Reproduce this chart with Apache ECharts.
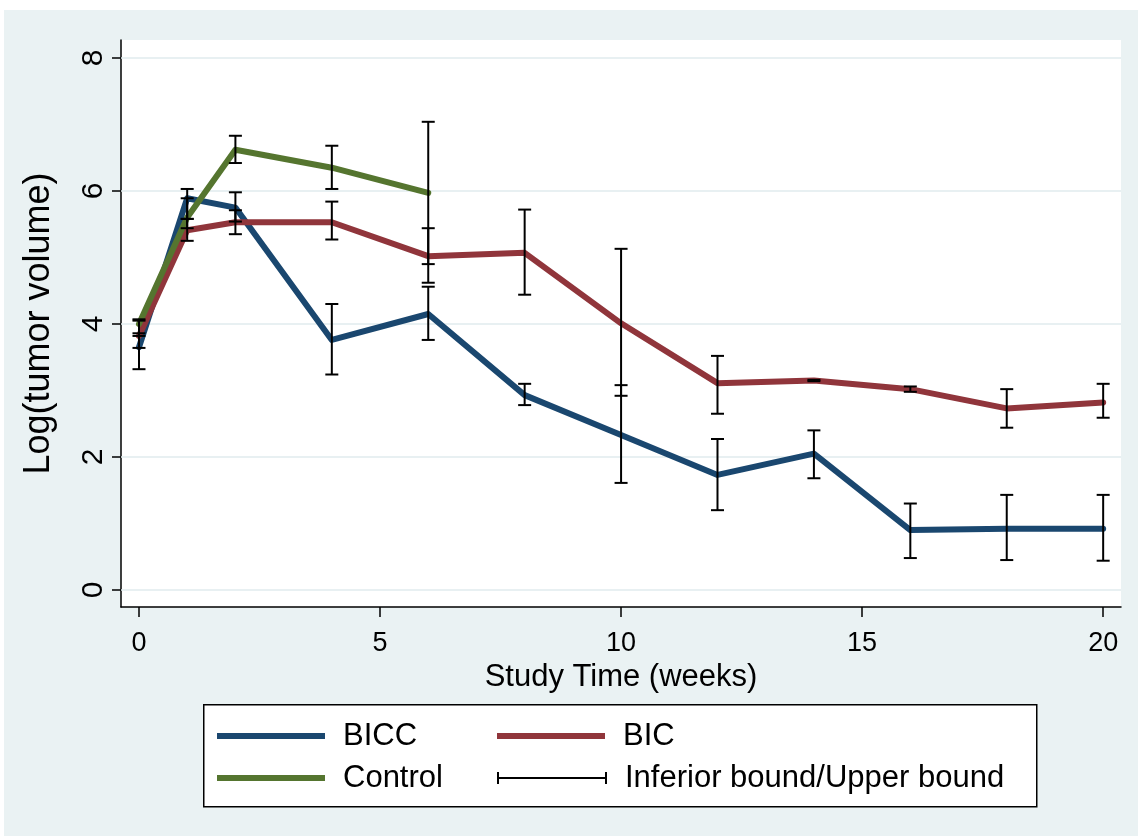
<!DOCTYPE html>
<html><head><meta charset="utf-8">
<script src="https://cdn.jsdelivr.net/npm/echarts@6/dist/echarts.min.js"></script>
<style>html,body{margin:0;padding:0;background:#fff;} #c{position:absolute;left:4px;top:10px;width:1134px;height:826px;}</style>
</head><body><div id="c"></div>
<script>
// ---- data ----
const weeks = [0, 1, 2, 4, 6, 8, 10, 12, 14, 16, 18, 20];
const bicc   = [3.65, 5.89, 5.75, 3.76, 4.15, 2.93, 2.33, 1.73, 2.05, 0.90, 0.92, 0.92];
const biccLo = [3.32, 5.44, 5.54, 3.24, 3.76, 2.78, 1.61, 1.20, 1.68, 0.48, 0.45, 0.44];
const biccHi = [4.07, 6.03, 5.98, 4.30, 4.56, 3.10, 3.08, 2.27, 2.40, 1.30, 1.43, 1.43];
const bic    = [3.82, 5.41, 5.53, 5.53, 5.02, 5.07, 4.01, 3.11, 3.15, 3.02, 2.73, 2.82];
const bicLo  = [3.64, 5.25, 5.35, 5.27, 4.62, 4.44, 2.92, 2.65, 3.14, 2.98, 2.44, 2.59];
const bicHi  = [3.86, 5.58, 5.71, 5.84, 5.44, 5.72, 5.13, 3.52, 3.16, 3.06, 3.02, 3.10];
const controlWeeks = [0, 1, 2, 4, 6];
const control   = [4.00, 5.60, 6.62, 6.35, 5.97];
const controlLo = [3.82, 5.58, 6.42, 6.03, 4.90];
const controlHi = [4.05, 5.89, 6.83, 6.68, 7.04];
const xTicks = [0, 5, 10, 15, 20];
const yTicks = [0, 2, 4, 6, 8];
const seriesNames = ['BICC', 'BIC', 'Control', 'Inferior bound/Upper bound'];

const FONT = "'Liberation Sans', Arial, sans-serif";
const COL = { BICC: '#1a476f', BIC: '#90353b', Control: '#55752f' };

const pairs = (xs, ys) => xs.map((x, i) => [x, ys[i]]);
const bounds = [];
weeks.forEach((w, i) => bounds.push([w, biccLo[i], biccHi[i]]));
weeks.forEach((w, i) => bounds.push([w, bicLo[i], bicHi[i]]));
controlWeeks.forEach((w, i) => bounds.push([w, controlLo[i], controlHi[i]]));

const chart = echarts.init(document.getElementById('c'), null, { renderer: 'canvas' });

function lineSeries(name, data) {
  return {
    name, type: 'line', data, symbol: 'none', showSymbol: false,
    lineStyle: { width: 6, color: COL[name], join: 'round', cap: 'round' },
    itemStyle: { color: COL[name] },
    emphasis: { disabled: true }, silent: true, z: 2
  };
}

function legendItem(name, left, top, icon, w, h) {
  return {
    data: [{ name, icon }], left, top, padding: 0, orient: 'horizontal',
    itemWidth: w, itemHeight: h, selectedMode: false,
    textStyle: { fontFamily: FONT, fontSize: 31, color: '#000', padding: [0, 0, 0, 13], lineHeight: 36 }
  };
}

const errIcon = 'path://M0,0h2v12h-2z M0,5h110v2h-110z M108,0h2v12h-2z';

chart.setOption({
  animation: false,
  backgroundColor: '#eaf2f3',
  textStyle: { fontFamily: FONT },
  grid: { left: 117, top: 30, right: 17, bottom: 229, show: true, backgroundColor: '#ffffff', borderWidth: 0 },
  xAxis: {
    type: 'value', min: -0.373, max: 20.37,
    name: 'Study Time (weeks)', nameLocation: 'middle', nameGap: 51,
    nameTextStyle: { fontFamily: FONT, fontSize: 31, color: '#000' },
    axisLine: { show: true, onZero: false, lineStyle: { color: '#000', width: 1.5 } },
    axisTick: { show: true, length: 10, customValues: xTicks, lineStyle: { color: '#000', width: 1.5 } },
    axisLabel: { customValues: xTicks, fontSize: 27, color: '#000', margin: 23, fontFamily: FONT },
    splitLine: { show: false }
  },
  yAxis: {
    type: 'value', min: -0.256, max: 8.27,
    name: 'Log(tumor volume)', nameLocation: 'middle', nameGap: 64,
    nameTextStyle: { fontFamily: FONT, fontSize: 36, color: '#000' },
    axisLine: { show: true, onZero: false, lineStyle: { color: '#000', width: 1.5 } },
    axisTick: { show: true, length: 9, customValues: yTicks, lineStyle: { color: '#000', width: 1.5 } },
    axisLabel: { customValues: yTicks, rotate: 90, fontSize: 30, color: '#000', margin: 12, fontFamily: FONT },
    splitLine: { show: false }
  },
  graphic: [{
    type: 'rect', left: 199, top: 694, z: 0,
    shape: { width: 833, height: 102 },
    style: { fill: '#ffffff', stroke: '#000', lineWidth: 1.5 }
  }],
  legend: [
    legendItem('BICC', 213, 708, 'rect', 108, 6),
    legendItem('BIC', 493, 708, 'rect', 108, 6),
    legendItem('Control', 213, 750, 'rect', 108, 6),
    legendItem('Inferior bound/Upper bound', 493, 750, errIcon, 110, 12)
  ],
  series: [
    Object.assign(lineSeries('BICC', pairs(weeks, bicc)), {
      markLine: {
        silent: true, symbol: 'none', label: { show: false }, z: 1,
        lineStyle: { color: '#e1ebee', width: 1.5, type: 'solid' },
        data: yTicks.map(v => ({ yAxis: v }))
      }
    }),
    lineSeries('BIC', pairs(weeks, bic)),
    lineSeries('Control', pairs(controlWeeks, control)),
    {
      name: 'Inferior bound/Upper bound', type: 'custom', data: bounds, z: 5, silent: true,
      itemStyle: { color: '#000' },
      encode: { x: 0, y: [1, 2] },
      renderItem: function (params, api) {
        const x = api.value(0), lo = api.value(1), hi = api.value(2);
        const a = api.coord([x, hi]), b = api.coord([x, lo]);
        const hw = 6.5, st = { stroke: '#000', lineWidth: 2 };
        return { type: 'group', children: [
          { type: 'line', shape: { x1: a[0], y1: a[1], x2: b[0], y2: b[1] }, style: st },
          { type: 'line', shape: { x1: a[0] - hw, y1: a[1], x2: a[0] + hw, y2: a[1] }, style: st },
          { type: 'line', shape: { x1: b[0] - hw, y1: b[1], x2: b[0] + hw, y2: b[1] }, style: st }
        ] };
      }
    }
  ]
});
</script></body></html>
